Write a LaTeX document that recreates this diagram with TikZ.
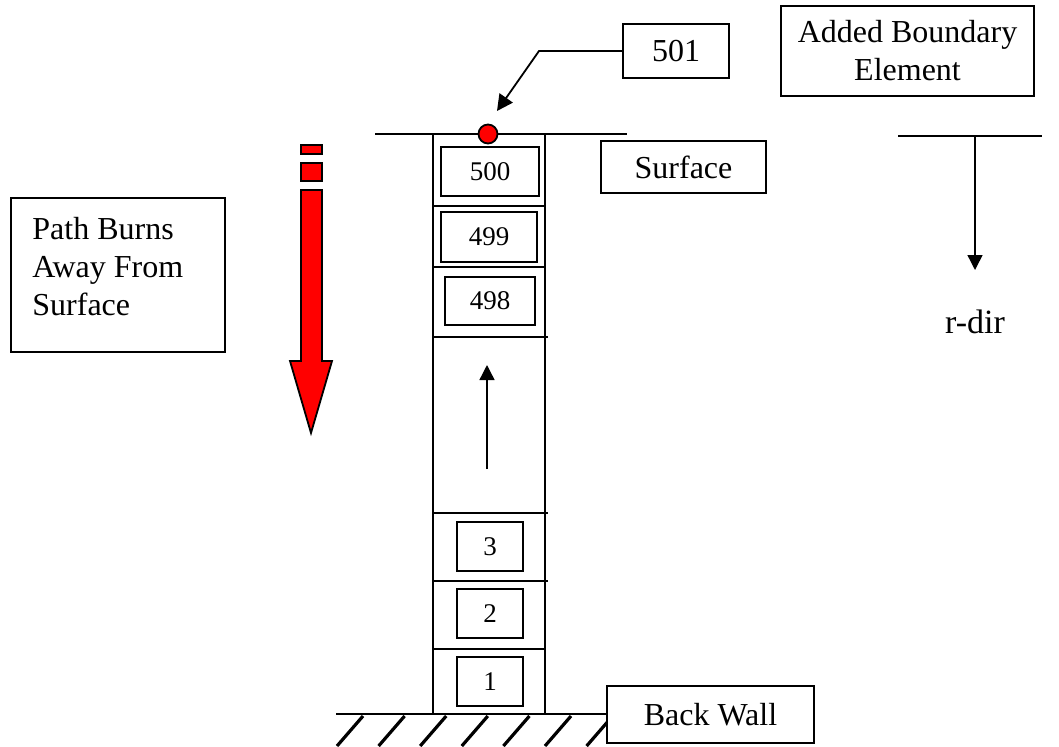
\documentclass[tikz,border=0pt]{standalone}
\usepackage{fontspec}
\setmainfont{Liberation Serif}
\usetikzlibrary{arrows.meta, positioning}

\begin{document}
\begin{tikzpicture}[
    x=0.5pt, y=-0.5pt,
    lblbox/.style={rectangle, draw=black, line width=0.9pt, fill=white, text centered, align=center, font=\fontsize{16}{19}\selectfont},
    cellbox/.style={rectangle, draw=black, line width=0.9pt, text centered, minimum height=24.5pt, font=\fontsize{13.5}{16}\selectfont},
    wall/.style={line width=0.9pt},
    hatch/.style={line width=1.6pt},
    arrow/.style={line width=0.7pt, -{Triangle[length=7.5pt,width=7.5pt]}}
]
\useasboundingbox (0,0) rectangle (1059,746);

% Column of cells
\draw [wall] (375,134) -- (627,134);
\draw [wall] (433,134) -- (433,714);
\draw [wall] (545,134) -- (545,714);
\draw [wall] (433,206) -- (545,206);
\draw [wall] (433,267) -- (545,267);
\draw [wall] (433,337) -- (548,337);
\draw [wall] (433,513) -- (548,513);
\draw [wall] (433,581) -- (548,581);
\draw [wall] (433,649) -- (545,649);

% Back wall with hatching
\draw [wall] (336,714) -- (607,714);
\foreach \i in {0,...,6}
    \draw [hatch] (363+41.6*\i,716) -- (337+41.6*\i,746);

% Cell numbers
\node (c500) [cellbox, minimum width=49pt] at (490,171.5) {500};
\node (c499) [cellbox, minimum width=48pt, minimum height=25pt] at (489,237) {499};
\node (c498) [cellbox, minimum width=45pt, minimum height=24pt] at (490,301) {498};
\node (c3) [cellbox, minimum width=33pt] at (490,546.5) {3};
\node (c2) [cellbox, minimum width=33pt] at (490,613.5) {2};
\node (c1) [cellbox, minimum width=33pt] at (490,681.5) {1};

% Up arrow in the gap
\coordinate (gapbot) at (487,469);
\coordinate (gaptop) at (487,365);
\draw [arrow] (gapbot) -- (gaptop);

% Added boundary element
\node (dot) [circle, draw=black, line width=0.9pt, fill=red, minimum size=9.5pt, inner sep=0pt] at (488,134) {};
\node (b501) [lblbox, minimum width=53pt, minimum height=27pt] at (676,51) {501};
\coordinate (bend) at (539,51);
\coordinate (tip) at (497,111);
\draw [line width=0.9pt, -{Triangle[length=8pt,width=8pt]}] (b501.west) -- (bend) -- (tip);

% Labels
\node (added) [lblbox, minimum width=126.5pt, minimum height=45pt] at (907.5,51) {Added Boundary\\Element};
\node (surface) [lblbox, minimum width=82.5pt, minimum height=26pt] at (683.5,167) {Surface};
\node (burns) [lblbox, minimum width=107pt, minimum height=77pt] at (118,275) {};
\node (burnstext) [anchor=west, align=left, inner sep=0pt, font=\fontsize{16}{19}\selectfont] at (32,267) {Path Burns\\Away From\\Surface};
\node (back) [lblbox, minimum width=103.5pt, minimum height=28.5pt] at (710.5,714.5) {Back Wall};

% r-direction
\draw [wall] (898,136) -- (1042,136);
\coordinate (rtop) at (975,136);
\coordinate (rbot) at (975,270);
\draw [arrow] (rtop) -- (rbot);
\node (rdir) [font=\fontsize{17}{20}\selectfont] at (975,322) {r-dir};

% Red burn arrow
\draw [line width=0.9pt, fill=red] (301,145) rectangle (322,154);
\draw [line width=0.9pt, fill=red] (301,163) rectangle (322,181);
\draw [line width=0.9pt, fill=red] (301,190) -- (322,190) -- (322,361) -- (332,361)
    -- (311,433) -- (290,361) -- (301,361) -- cycle;

\end{tikzpicture}
\end{document}
